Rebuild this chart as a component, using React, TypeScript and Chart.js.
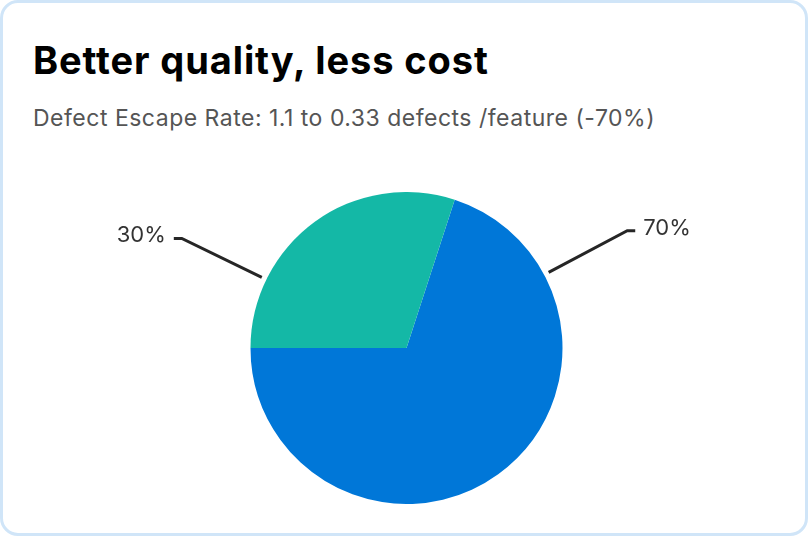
import React, { useEffect, useRef } from "react";
import { Chart, registerables } from "chart.js";

Chart.register(...registerables);

const categories = ["Remaining", "Reduction"];
const values = [70, 30];
const valueLabels = ["70%", "30%"];
const colors = ["#0077D8", "#14B8A6"];
const labelAngles = [62, 296]; // degrees clockwise from top, leader-line direction

const leaderPlugin = {
  id: "leaders",
  afterDatasetsDraw(chart: any) {
    const meta = chart.getDatasetMeta(0);
    const ctx = chart.ctx;
    ctx.save();
    meta.data.forEach((arc: any, i: number) => {
      const { x, y, outerRadius } = arc.getProps(["x", "y", "outerRadius"], true);
      const a = (labelAngles[i] * Math.PI) / 180;
      const sx = x + Math.sin(a) * (outerRadius + 5);
      const sy = y - Math.cos(a) * (outerRadius + 5);
      const ex = x + Math.sin(a) * (outerRadius + 94);
      const ey = y - Math.cos(a) * (outerRadius + 94);
      const right = Math.sin(a) >= 0;
      const hx = ex + (right ? 8 : -8);
      ctx.strokeStyle = "#262626";
      ctx.lineWidth = 3;
      ctx.lineJoin = "miter";
      ctx.beginPath();
      ctx.moveTo(sx, sy);
      ctx.lineTo(ex, ey);
      ctx.lineTo(hx, ey);
      ctx.stroke();
      ctx.fillStyle = "#333333";
      ctx.font = "22px Inter";
      ctx.textBaseline = "alphabetic";
      ctx.textAlign = right ? "left" : "right";
      ctx.fillText(valueLabels[i], hx + (right ? 8 : -8), ey + 4);
    });
    ctx.restore();
  },
};

export default function App() {
  const ref = useRef<HTMLCanvasElement>(null);
  useEffect(() => {
    document.body.style.margin = "0";
    const chart = new Chart(ref.current!, {
      type: "pie",
      data: {
        labels: categories,
        datasets: [
          {
            data: values,
            backgroundColor: colors,
            borderWidth: 0,
            hoverOffset: 0,
          },
        ],
      },
      options: {
        animation: false,
        responsive: false,
        rotation: 18,
        layout: { padding: { left: 5, right: 0, top: 0, bottom: 0 } },
        plugins: { legend: { display: false }, tooltip: { enabled: false } },
      },
      plugins: [leaderPlugin],
    });
    return () => chart.destroy();
  }, []);

  return (
    <div
      style={{
        position: "relative",
        width: 808,
        height: 536,
        boxSizing: "border-box",
        border: "3px solid #D0E5F8",
        borderRadius: 18,
        background: "#fff",
        overflow: "hidden",
      }}
    >
      <div
        style={{
          position: "absolute",
          left: 30,
          top: 38,
          fontFamily: "Inter",
          fontWeight: 700,
          fontSize: 38,
          lineHeight: "38px",
          letterSpacing: "0.9px",
          color: "#000",
          whiteSpace: "nowrap",
        }}
      >
        Better quality, less cost
      </div>
      <div
        style={{
          position: "absolute",
          left: 30,
          top: 104,
          fontFamily: "Inter",
          fontSize: 23,
          lineHeight: "23px",
          letterSpacing: "0.5px",
          color: "#555",
          whiteSpace: "nowrap",
        }}
      >
        Defect Escape Rate: 1.1 to 0.33 defects /feature (-70%)
      </div>
      <canvas
        ref={ref}
        width={808}
        height={312}
        style={{ position: "absolute", left: -3, top: 189, width: 808, height: 312 }}
      />
    </div>
  );
}
